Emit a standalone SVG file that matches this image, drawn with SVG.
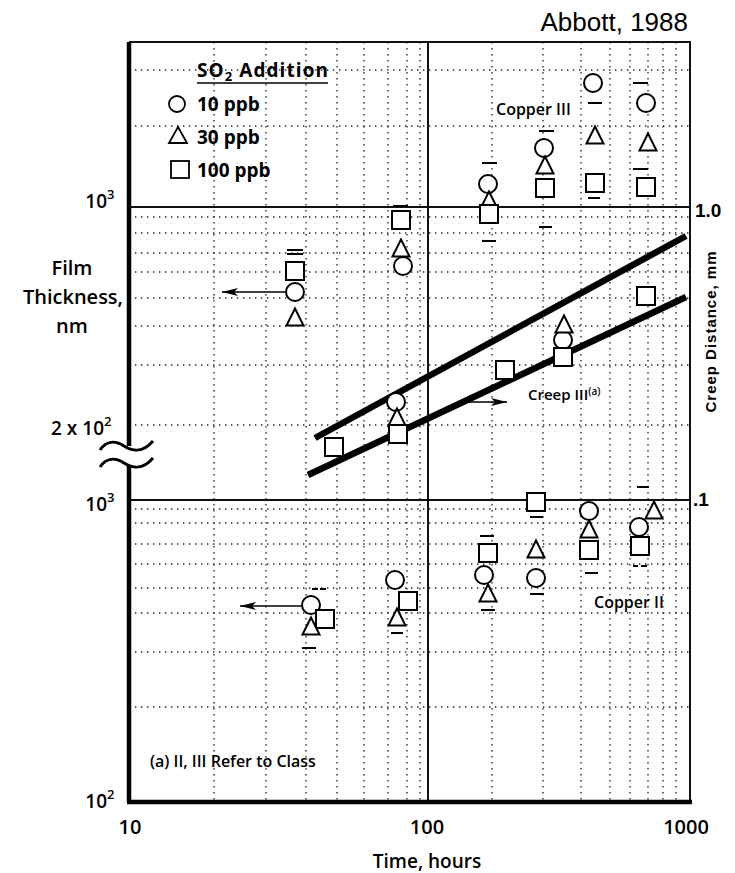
<svg xmlns="http://www.w3.org/2000/svg" width="735" height="873" viewBox="0 0 735 873">
<style>
.grid{stroke:#222;stroke-width:1.3;stroke-dasharray:1.4 4.6;fill:none}
.solid{stroke:#111;stroke-width:2;fill:none}
.axis{stroke:#000;stroke-width:4.5;fill:none}
.frame{stroke:#111;stroke-width:2;fill:none}
.band{stroke:#000;stroke-width:6.5;fill:none}
.m{fill:#fff;stroke:#000;stroke-width:2}
.bar{stroke:#000;stroke-width:2}
.t{font-family:"Open Sans","DejaVu Sans",sans-serif;font-weight:600;fill:#000}
.b{font-weight:700}
.a{font-family:"Liberation Sans",Arial,sans-serif;fill:#000}
.arr{stroke:#000;stroke-width:1.6;fill:none;marker-end:url(#ah)}
</style>
<defs>
<marker id="ah" viewBox="0 0 16 8" refX="16" refY="4" markerWidth="16" markerHeight="8" markerUnits="userSpaceOnUse" orient="auto">
<path d="M0,0 L16,4 L0,8 L4,4 Z" fill="#000"/>
</marker>
<circle id="c" cx="0" cy="0" r="9" class="m"/>
<path id="tr" d="M0,-8.5 L8.5,8.5 L-8.5,8.5 Z" class="m"/>
<rect id="sq" x="-9" y="-9" width="18" height="18" class="m"/>
</defs>

<g id="grid">
<path class="grid" d="M214,42V802M266,42V802M306,42V802M337,42V802M364,42V802M388,42V802M407,42V802M420,42V802M492,42V802M543,42V802M581,42V802M610,42V802M630,42V802M648,42V802M663,42V802M676,42V802"/>
<path class="grid" d="M129,70H690M129,126H690M129,217H690M129,233H690M129,253H690M129,272H690M129,298H690M129,326H690M129,365H690M129,425H690M129,509H690M129,523H690M129,544H690M129,564H690M129,588H690M129,613H690M129,652H690M129,707H690"/>
<path class="solid" d="M129,207H690M129,500H690M428,42V802"/>
</g>

<g id="axes">
<path class="frame" d="M129,42H690V802"/>
<path class="axis" d="M129,42V446M129,466V802M127,802H692"/>
<path d="M100,450 C106,441 115,440 124,446 C132,451 142,454 153,441" stroke="#000" stroke-width="3" fill="none"/>
<path d="M100,467 C106,458 115,457 124,463 C132,468 142,471 153,458" stroke="#000" stroke-width="3" fill="none"/>
</g>

<g id="creep-band">
<line class="band" x1="315" y1="438" x2="686" y2="236"/>
<line class="band" x1="308" y1="475" x2="686" y2="297"/>
</g>

<g id="connectors">
<line class="arr" x1="285" y1="292" x2="222" y2="292"/>
<line class="arr" x1="302" y1="606" x2="240" y2="606"/>
<line class="arr" x1="467" y1="402" x2="507" y2="402"/>
</g>

<g id="copper-iii-points">
<path class="bar" d="M287,250H303M287,254H303"/>
<use href="#sq" x="295" y="271"/><use href="#c" x="295" y="292"/><use href="#tr" x="295" y="317"/>
<path class="bar" d="M393,206H408"/>
<use href="#sq" x="401" y="220"/><use href="#tr" x="401" y="248"/><use href="#c" x="403" y="266"/>
<path class="bar" d="M482,163H497M482,241H496"/>
<use href="#c" x="488" y="184"/><use href="#tr" x="489" y="200"/><use href="#sq" x="489" y="214"/>
<path class="bar" d="M539,131H554M539,227H552"/>
<use href="#c" x="544" y="148"/><use href="#tr" x="545" y="165"/><use href="#sq" x="545" y="188"/>
<path class="bar" d="M588,103H602M588,198H600"/>
<use href="#c" x="593" y="83"/><use href="#tr" x="595" y="135"/><use href="#sq" x="595" y="183"/>
<path class="bar" d="M633,83H648M633,169H648"/>
<use href="#c" x="646" y="103"/><use href="#tr" x="648" y="142"/><use href="#sq" x="646" y="187"/>
</g>

<g id="creep-points">
<use href="#sq" x="334" y="447"/>
<use href="#c" x="396" y="402"/><use href="#tr" x="397" y="417"/><use href="#sq" x="398" y="434"/>
<use href="#sq" x="505" y="370"/>
<use href="#c" x="563" y="340"/><use href="#tr" x="564" y="324"/><use href="#sq" x="563" y="357"/>
<use href="#sq" x="646" y="296"/>
</g>

<g id="copper-ii-points">
<path class="bar" d="M312,589H318M320,589H326M302,648H316"/>
<use href="#c" x="311" y="605"/><use href="#sq" x="325" y="619"/><use href="#tr" x="311" y="626"/>
<path class="bar" d="M391,633H403"/>
<use href="#c" x="395" y="580"/><use href="#tr" x="397" y="617"/><use href="#sq" x="408" y="601"/>
<path class="bar" d="M480,536H494M481,610H495"/>
<use href="#sq" x="488" y="553"/><use href="#c" x="484" y="575"/><use href="#tr" x="488" y="593"/>
<path class="bar" d="M530,517H543M530,594H544"/>
<use href="#sq" x="536" y="502"/><use href="#tr" x="536" y="549"/><use href="#c" x="536" y="578"/>
<path class="bar" d="M585,573H598"/>
<use href="#c" x="589" y="511"/><use href="#tr" x="589" y="529"/><use href="#sq" x="589" y="550"/>
<path class="bar" d="M637,487H649M633,566H638M641,566H647"/>
<use href="#tr" x="654" y="510"/><use href="#c" x="639" y="527"/><use href="#sq" x="640" y="546"/>
</g>

<g id="legend">
<text class="t b" x="197" y="77" font-size="19" textLength="131">SO<tspan font-size="13" dy="4">2</tspan><tspan dy="-4"> Addition</tspan></text>
<line x1="197" y1="83" x2="328" y2="83" stroke="#000" stroke-width="1.6"/>
<circle cx="177" cy="104" r="8" fill="#fff" stroke="#000" stroke-width="1.8"/>
<path d="M178,127 L187,143 L169,143 Z" fill="#fff" stroke="#000" stroke-width="1.8"/>
<rect x="171" y="161" width="18" height="17" fill="#fff" stroke="#000" stroke-width="1.8"/>
<text class="t b" x="197" y="111" font-size="19">10 ppb</text>
<text class="t b" x="197" y="144" font-size="19">30 ppb</text>
<text class="t b" x="197" y="177" font-size="19">100 ppb</text>
</g>

<g id="labels">
<text class="a" x="688" y="31" font-size="26" text-anchor="end">Abbott, 1988</text>
<text class="t" x="496" y="115" font-size="16">Copper III</text>
<text class="t" x="528" y="400" font-size="15">Creep III<tspan font-size="10" dy="-5">(a)</tspan></text>
<text class="t" x="594" y="608" font-size="16">Copper II</text>
<text class="t" x="150" y="767" font-size="16">(a)  II, III Refer to Class</text>

<text class="t" x="107" y="208" font-size="19" text-anchor="end">10</text>
<text class="t" x="107" y="199" font-size="13">3</text>
<text class="t" x="72" y="275" font-size="20" text-anchor="middle">Film</text>
<text class="t" x="73" y="304" font-size="20" text-anchor="middle">Thickness,</text>
<text class="t" x="72" y="333" font-size="20" text-anchor="middle">nm</text>
<text class="t" x="104" y="435" font-size="19" text-anchor="end">2  x 10</text>
<text class="t" x="104" y="426" font-size="13">2</text>
<text class="t" x="107" y="511" font-size="19" text-anchor="end">10</text>
<text class="t" x="107" y="502" font-size="13">3</text>
<text class="t" x="107" y="808" font-size="19" text-anchor="end">10</text>
<text class="t" x="107" y="799" font-size="13">2</text>

<text class="t" x="130" y="834" font-size="20" text-anchor="middle">10</text>
<text class="t" x="427" y="834" font-size="20" text-anchor="middle">100</text>
<text class="t" x="686" y="834" font-size="20" text-anchor="middle">1000</text>
<text class="t" x="427" y="868" font-size="19" text-anchor="middle">Time, hours</text>

<text class="a" x="695" y="217" font-size="19" font-weight="bold">1.0</text>
<text class="a" x="693" y="506" font-size="19" font-weight="bold">.1</text>
<text class="a" font-size="15" font-weight="bold" text-anchor="middle" textLength="161" transform="translate(716,332) rotate(-90)">Creep  Distance,  mm</text>
</g>
</svg>
